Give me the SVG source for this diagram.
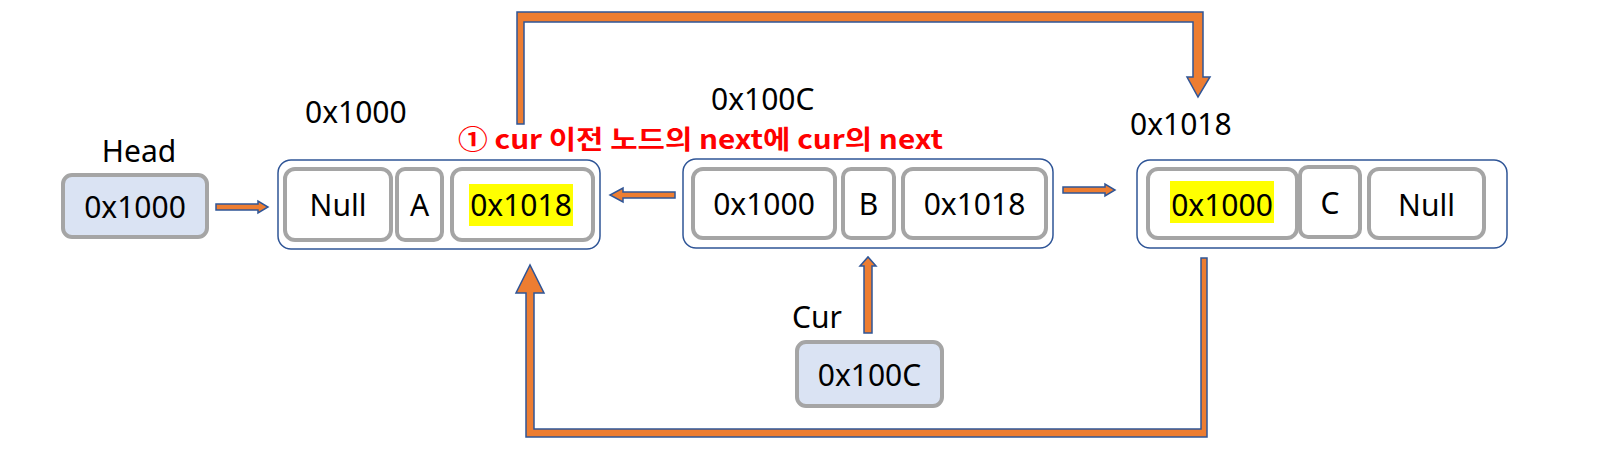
<svg xmlns="http://www.w3.org/2000/svg" width="1606" height="452" viewBox="0 0 1606 452">
<style>
  .lbl { font-family: "Noto Sans", "Open Sans", "Noto Sans CJK KR", sans-serif; font-size: 30px; fill: #000; }
  .mid { text-anchor: middle; }
  .outer { fill: #fff; stroke: #2F5597; stroke-width: 1.5; }
  .cell { fill: #fff; stroke: #A5A5A5; stroke-width: 4; }
  .ptr { fill: #DAE3F3; stroke: #A5A5A5; stroke-width: 4; }
  .hl { fill: #FFFF00; }
  .arrow { fill: #ED7D31; stroke: #2F5597; stroke-width: 1.5; stroke-linejoin: miter; }
  .note { font-family: "Noto Sans CJK KR", "Noto Sans", sans-serif; font-size: 26px; font-weight: bold; fill: #FF0000; }
</style>
<rect width="1606" height="452" fill="#fff"/>

<g id="connectors">
  <path class="arrow" d="M216,204 L258,204 L258,201 L268,207 L258,213 L258,210 L216,210 Z"/>
  <path class="arrow" d="M675,192 L623,192 L623,188 L610,195 L623,202 L623,198 L675,198 Z"/>
  <path class="arrow" d="M1063,187 L1105,187 L1105,184 L1115,190 L1105,196 L1105,193 L1063,193 Z"/>
  <path class="arrow" d="M517,124 L517,12 L1203,12 L1203,77 L1210,77 L1198,97 L1187,77 L1193,77 L1193,22 L524,22 L524,124 Z"/>
  <path class="arrow" d="M1207,258 L1207,437 L526,437 L526,293 L516,293 L530,265 L544,293 L534,293 L534,429 L1201,429 L1201,258 Z"/>
  <path class="arrow" d="M864,333 L864,266 L860,266 L868,257 L876,266 L872,266 L872,333 Z"/>
</g>

<g id="head">
  <text class="lbl mid" x="139" y="162">Head</text>
  <rect class="ptr" x="63" y="175" width="144" height="62" rx="9"/>
  <text class="lbl mid" x="135" y="218">0x1000</text>
</g>

<g id="nodeA">
  <text class="lbl" x="305" y="123">0x1000</text>
  <rect class="outer" x="278" y="160" width="322" height="89" rx="13"/>
  <rect class="cell" x="285" y="169" width="106" height="71" rx="10"/>
  <rect class="cell" x="397" y="169" width="45" height="71" rx="8"/>
  <rect class="cell" x="452" y="169" width="141" height="71" rx="10"/>
  <rect class="hl" x="469" y="184" width="104" height="42"/>
  <text class="lbl mid" x="338" y="216">Null</text>
  <text class="lbl mid" x="419.5" y="216">A</text>
  <text class="lbl mid" x="521" y="216">0x1018</text>
</g>

<g id="note">
  <text class="note" x="458" y="149" textLength="485" lengthAdjust="spacingAndGlyphs">① cur 이전 노드의 next에 cur의 next</text>
</g>

<g id="nodeB">
  <text class="lbl" x="711" y="110">0x100C</text>
  <rect class="outer" x="683" y="159" width="370" height="89" rx="13"/>
  <rect class="cell" x="693" y="169" width="142" height="69" rx="10"/>
  <rect class="cell" x="843" y="169" width="51" height="69" rx="8"/>
  <rect class="cell" x="903" y="169" width="143" height="69" rx="10"/>
  <text class="lbl mid" x="764" y="215">0x1000</text>
  <text class="lbl mid" x="868.5" y="215">B</text>
  <text class="lbl mid" x="974.5" y="215">0x1018</text>
</g>

<g id="nodeC">
  <text class="lbl" x="1130" y="135">0x1018</text>
  <rect class="outer" x="1137" y="160" width="370" height="88" rx="13"/>
  <rect class="cell" x="1148" y="169" width="149" height="69" rx="10"/>
  <rect class="cell" x="1300" y="167" width="60" height="70" rx="8"/>
  <rect class="cell" x="1369" y="169" width="115" height="69" rx="10"/>
  <rect class="hl" x="1170" y="181" width="104" height="42"/>
  <text class="lbl mid" x="1222" y="216">0x1000</text>
  <text class="lbl mid" x="1330" y="214">C</text>
  <text class="lbl mid" x="1426.5" y="216">Null</text>
</g>

<g id="cur">
  <text class="lbl" x="792" y="328">Cur</text>
  <rect class="ptr" x="797" y="342" width="145" height="64" rx="9"/>
  <text class="lbl mid" x="869.5" y="386">0x100C</text>
</g>
</svg>
